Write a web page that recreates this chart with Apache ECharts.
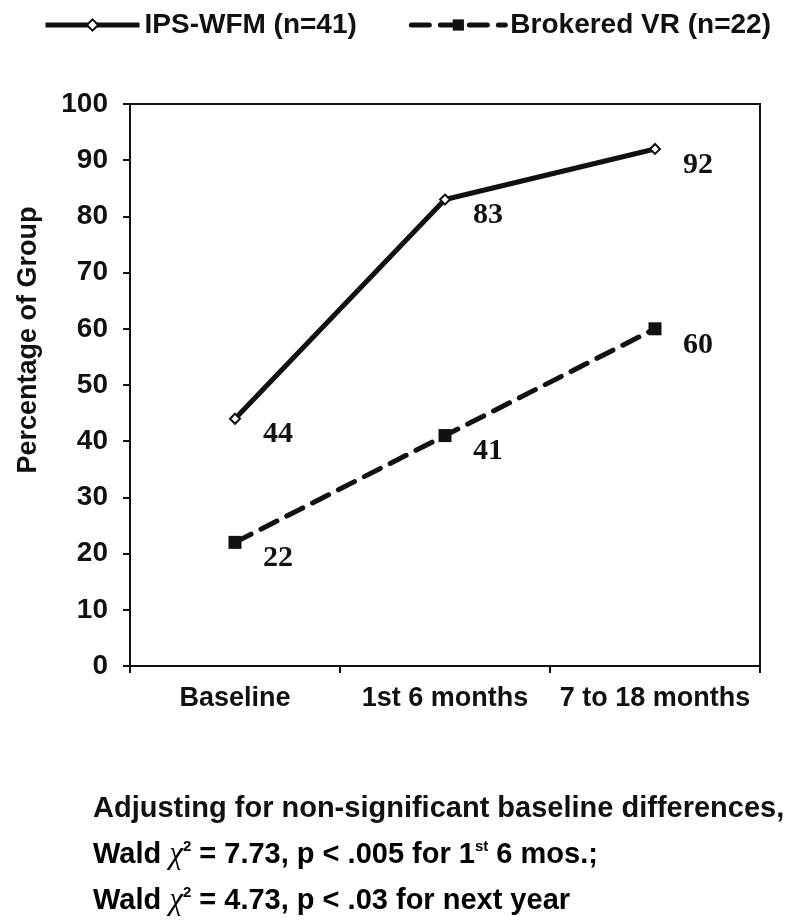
<!DOCTYPE html>
<html>
<head>
<meta charset="utf-8">
<script src="https://cdn.jsdelivr.net/npm/echarts@6/dist/echarts.min.js"></script>
<style>
html,body{margin:0;padding:0;background:#fff;}
#chart{width:800px;height:921px;}
</style>
</head>
<body>
<div id="chart"></div>
<script>
const categories = ['Baseline', '1st 6 months', '7 to 18 months'];
const ipsValues = [44, 83, 92];
const vrValues = [22, 41, 60];
const seriesNames = ['IPS-WFM (n=41)', 'Brokered VR (n=22)'];
const yTicks = [0, 10, 20, 30, 40, 50, 60, 70, 80, 90, 100];
const noteLines = [
  'Adjusting for non-significant baseline differences,',
  ['Wald ', 'χ', '2', ' = 7.73, p < .005 for 1', 'st', ' 6 mos.;'],
  ['Wald ', 'χ', '2', ' = 4.73, p < .03 for next year']
];

const chart = echarts.init(document.getElementById('chart'), null, {renderer: 'canvas'});
const sans = 'Liberation Sans, Arial, sans-serif';
const serif = 'Liberation Serif, Times New Roman, serif';

const valueLabel = {
  show: true,
  position: 'inside',
  offset: [43, 16],
  fontFamily: serif,
  fontWeight: 'bold',
  fontSize: 30,
  color: '#111'
};

function richLine(parts) {
  let s = '{t|' + parts[0] + '}{chi|' + parts[1] + '}{sup|' + parts[2] + '}{t|' + parts[3] + '}';
  if (parts.length > 4) s += '{sup|' + parts[4] + '}{t|' + parts[5] + '}';
  return s;
}
const richStyles = {
  t: {fontFamily: sans, fontWeight: 'bold', fontSize: 29, color: '#111'},
  chi: {fontFamily: serif, fontStyle: 'italic', fontSize: 31, color: '#111'},
  sup: {fontFamily: sans, fontSize: 15, fontWeight: 'bold', color: '#111', verticalAlign: 'top', padding: [0, 0, 14, 0]}
};

const option = {
  backgroundColor: '#fff',
  animation: false,
  legend: {
    left: 38,
    top: 6,
    itemWidth: 94,
    itemHeight: 14,
    itemGap: 52,
    lineStyle: {width: 5},
    textStyle: {fontFamily: sans, fontWeight: 'bold', fontSize: 28, color: '#111'},
    data: seriesNames
  },
  grid: {
    left: 130, right: 40, top: 104, bottom: 255,
    show: true, borderColor: '#111', borderWidth: 2, backgroundColor: 'transparent'
  },
  xAxis: {
    type: 'category',
    data: categories,
    boundaryGap: true,
    axisLine: {lineStyle: {color: '#111', width: 2}},
    axisTick: {show: true, interval: 0, length: 7, lineStyle: {color: '#111', width: 2}},
    axisLabel: {interval: 0, fontFamily: sans, fontWeight: 'bold', fontSize: 27, color: '#111', margin: 19}
  },
  yAxis: {
    type: 'value',
    min: yTicks[0], max: yTicks[yTicks.length - 1], interval: 10,
    name: 'Percentage of Group',
    nameLocation: 'middle',
    nameGap: 88,
    nameRotate: 90,
    nameTextStyle: {fontFamily: sans, fontWeight: 'bold', fontSize: 27, color: '#111', padding: [0, 0, 0, 90]},
    axisLine: {show: true, lineStyle: {color: '#111', width: 2}},
    axisTick: {show: true, length: 7, lineStyle: {color: '#111', width: 2}},
    splitLine: {show: false},
    axisLabel: {fontFamily: sans, fontWeight: 'bold', fontSize: 28, color: '#111', margin: 22}
  },
  series: [
    {
      name: seriesNames[0],
      type: 'line',
      data: ipsValues,
      symbol: 'diamond',
      symbolSize: 10,
      itemStyle: {color: '#fff', borderColor: '#111', borderWidth: 2},
      lineStyle: {color: '#111', width: 5, type: 'solid'},
      label: valueLabel,
      z: 3
    },
    {
      name: seriesNames[1],
      type: 'line',
      data: vrValues,
      symbol: 'rect',
      symbolSize: 13,
      itemStyle: {color: '#111', borderColor: '#111', borderWidth: 0},
      lineStyle: {color: '#111', width: 5, type: [18, 11], cap: 'round'},
      label: valueLabel,
      z: 2
    }
  ],
  graphic: [
    {type: 'text', left: 93, top: 794, style: {text: noteLines[0], fontFamily: sans, fontWeight: 'bold', fontSize: 29, fill: '#111'}},
    {type: 'text', left: 93, top: 839, style: {text: richLine(noteLines[1]), rich: richStyles}},
    {type: 'text', left: 93, top: 885, style: {text: richLine(noteLines[2]), rich: richStyles}}
  ]
};
chart.setOption(option);
</script>
</body>
</html>
